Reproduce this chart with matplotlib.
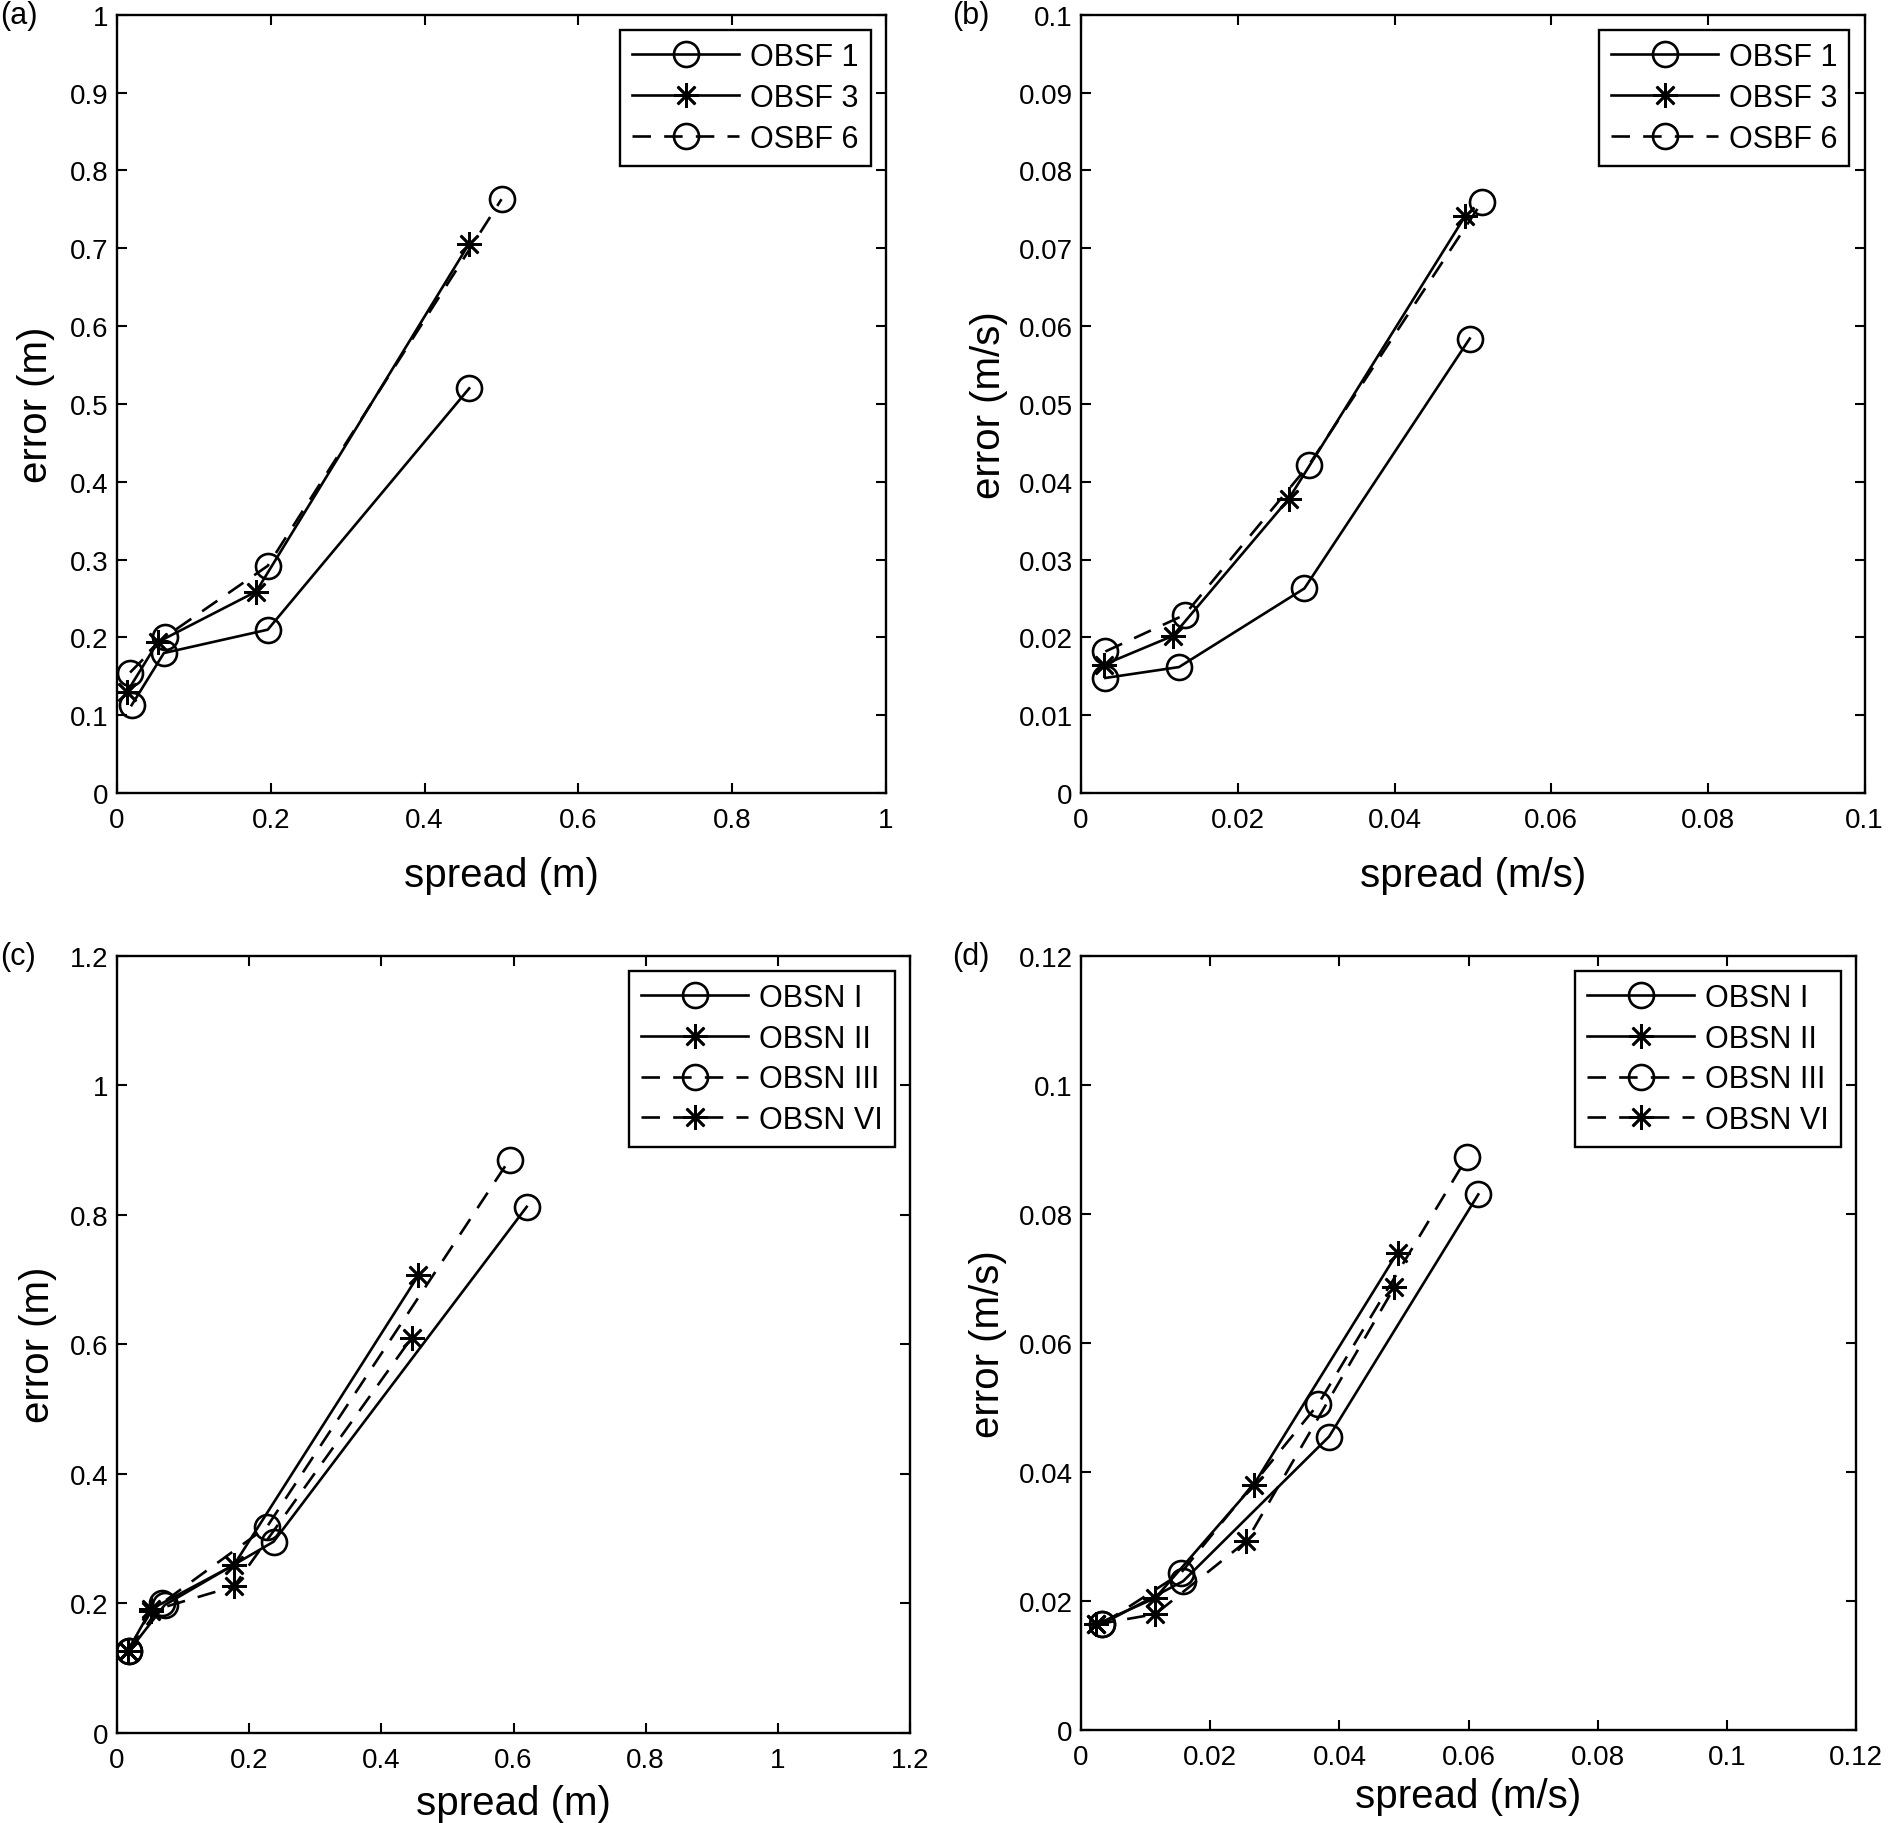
import matplotlib.pyplot as plt
import matplotlib.ticker as ticker
import numpy as np

plt.rcParams['font.family'] = ['Liberation Sans', 'DejaVu Sans']

# (a) position error
a_labels = ["OBSF 1", "OBSF 3", "OSBF 6"]
a_x = [[0.019, 0.061, 0.196, 0.458],
       [0.013, 0.053, 0.181, 0.458],
       [0.017, 0.063, 0.196, 0.500]]
a_y = [[0.113, 0.180, 0.210, 0.520],
       [0.130, 0.194, 0.259, 0.706],
       [0.155, 0.201, 0.292, 0.763]]

# (b) velocity error
b_labels = ["OBSF 1", "OBSF 3", "OSBF 6"]
b_x = [[0.0031, 0.0125, 0.0285, 0.0496],
       [0.0029, 0.0117, 0.0265, 0.0490],
       [0.0031, 0.0132, 0.0291, 0.0512]]
b_y = [[0.0148, 0.0162, 0.0263, 0.0584],
       [0.0165, 0.0202, 0.0378, 0.0741],
       [0.0182, 0.0229, 0.0422, 0.0760]]

# (c) position error, networks
c_labels = ["OBSN I", "OBSN II", "OBSN III", "OBSN VI"]
c_x = [[0.018, 0.072, 0.237, 0.620],
       [0.016, 0.052, 0.177, 0.456],
       [0.018, 0.068, 0.227, 0.594],
       [0.016, 0.052, 0.177, 0.446]]
c_y = [[0.126, 0.197, 0.295, 0.812],
       [0.126, 0.191, 0.259, 0.706],
       [0.126, 0.200, 0.318, 0.885],
       [0.126, 0.188, 0.226, 0.610]]

# (d) velocity error, networks
d_labels = ["OBSN I", "OBSN II", "OBSN III", "OBSN VI"]
d_x = [[0.0033, 0.0158, 0.0384, 0.0615],
       [0.0023, 0.0115, 0.0267, 0.0490],
       [0.0033, 0.0154, 0.0367, 0.0598],
       [0.0023, 0.0115, 0.0256, 0.0485]]
d_y = [[0.0165, 0.0231, 0.0455, 0.0830],
       [0.0164, 0.0205, 0.0380, 0.0740],
       [0.0165, 0.0243, 0.0505, 0.0888],
       [0.0164, 0.0180, 0.0293, 0.0686]]

dash = (0, (7, 5))
star = (8, 2, 0)
styles3 = [('-', 'o'), ('-', star), (dash, 'o')]
styles4 = [('-', 'o'), ('-', star), (dash, 'o'), (dash, star)]

fig = plt.figure(figsize=(18.9, 18.24), dpi=100)

panels = [
    ("(a)", [0.0619, 0.5646, 0.4069, 0.4268], a_x, a_y, a_labels, styles3,
     1.0, 0.2, 0.1, "spread (m)", "error (m)", -0.105, -0.105),
    ("(b)", [0.5720, 0.5646, 0.4146, 0.4268], b_x, b_y, b_labels, styles3,
     0.1, 0.02, 0.01, "spread (m/s)", "error (m/s)", -0.105, -0.118),
    ("(c)", [0.0619, 0.0495, 0.4196, 0.4261], c_x, c_y, c_labels, styles4,
     1.2, 0.2, 0.2, "spread (m)", "error (m)", -0.09, -0.099),
    ("(d)", [0.5720, 0.0508, 0.4101, 0.4248], d_x, d_y, d_labels, styles4,
     0.12, 0.02, 0.02, "spread (m/s)", "error (m/s)", -0.085, -0.12),
]

fmt = ticker.FuncFormatter(lambda v, p: '%g' % round(v, 6))

for tag, rect, xs, ys, labels, styles, lim, xstep, ystep, xl, yl, xlp, ylp in panels:
    ax = fig.add_axes(rect)
    for x, y, lab, (ls, mk) in zip(xs, ys, labels, styles):
        ax.plot(x, y, color='k', linestyle=ls, marker=mk, markersize=18,
                markerfacecolor='none', markeredgecolor='k', markeredgewidth=1.9,
                linewidth=1.9, label=lab)
    ax.set_xlim(0, lim)
    ax.set_ylim(0, lim)
    ax.set_xticks(np.arange(0, lim + xstep / 2, xstep))
    ax.set_yticks(np.arange(0, lim + ystep / 2, ystep))
    ax.xaxis.set_major_formatter(fmt)
    ax.yaxis.set_major_formatter(fmt)
    ax.tick_params(direction='in', length=7, width=1.5, labelsize=20,
                   top=True, right=True)
    ax.tick_params(axis='x', pad=10)
    ax.tick_params(axis='y', pad=6)
    for s in ax.spines.values():
        s.set_linewidth(1.7)
    ax.set_xlabel(xl, fontsize=29)
    ax.set_ylabel(yl, fontsize=29)
    ax.xaxis.label.set_va('center')
    ax.yaxis.label.set_va('center')
    ax.xaxis.set_label_coords(0.5, xlp)
    ax.yaxis.set_label_coords(ylp, 0.5)
    leg = ax.legend(loc='upper right', fontsize=22, handlelength=3.5,
                    handletextpad=0.35, borderpad=0.4, labelspacing=0.35,
                    borderaxespad=0.5, fancybox=False, framealpha=1)
    leg.get_frame().set_edgecolor('k')
    leg.get_frame().set_linewidth(1.7)
    fig.text(0.0 if rect[0] < 0.5 else 0.504, rect[1] + rect[3], tag,
             fontsize=22, ha='left', va='center')

fig.savefig('out.png', dpi=100)
